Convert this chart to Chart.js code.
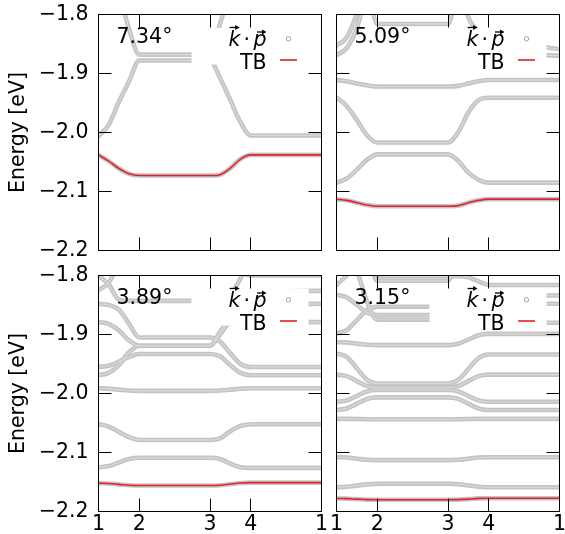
<!DOCTYPE html>
<html>
<head>
<meta charset="utf-8">
<script src="https://cdn.jsdelivr.net/npm/chart.js@4.4.1/dist/chart.umd.min.js"></script>
<style>
  html, body { margin: 0; padding: 0; background: #fff; }
  #wrap { position: relative; width: 565px; height: 534px; overflow: hidden; }
  #wrap canvas { position: absolute; left: 0; top: 0; }
</style>
</head>
<body>
<div id="wrap">
  <canvas id="p1" width="565" height="534"></canvas>
  <canvas id="p2" width="565" height="534"></canvas>
  <canvas id="p3" width="565" height="534"></canvas>
  <canvas id="p4" width="565" height="534"></canvas>
</div>
<script>
// path coordinate of every sample (1 -> 2 -> 3 -> 4 -> 1)
const K = [0, 0.25, 0.5, 0.75, 1, 2.732, 2.98, 3.23, 3.48, 3.732, 5.464];

const xTicks = [0, 1, 2.732, 3.732, 5.464];
const xTickLabels = ["1", "2", "3", "4", "1"];
const yTicks = [-2.2, -2.1, -2.0, -1.9, -1.8];
const yTickLabels = ["\u22122.2", "\u22122.1", "\u22122.0", "\u22121.9", "\u22121.8"];
const angles = ["7.34\u00b0", "5.09\u00b0", "3.89\u00b0", "3.15\u00b0"];

// 7.34 deg
const tb734 = [-2.038, -2.0485, -2.061, -2.070, -2.073, -2.073, -2.0715, -2.0605, -2.045, -2.038, -2.038];
const bands734 = [
    [-2.038, -2.0485, -2.061, -2.070, -2.073, -2.073, -2.0715, -2.0605, -2.045, -2.038, -2.038],
    [-2.006, -1.987, -1.948, -1.913, -1.878, -1.878, -1.908, -1.945, -1.983, -2.005, -2.005],
    [null, null, -1.76, -1.825, -1.868, -1.868, -1.815, -1.76, null, null, null]
];

// 5.09 deg
const tb509 = [-2.113, -2.115, -2.119, -2.123, -2.125, -2.125, -2.124, -2.119, -2.115, -2.113, -2.113];
const bands509 = [
    [-2.113, -2.115, -2.119, -2.123, -2.125, -2.125, -2.124, -2.119, -2.115, -2.113, -2.113],
    [-2.085, -2.078, -2.063, -2.046, -2.037, -2.037, -2.048, -2.068, -2.080, -2.085, -2.085],
    [-1.941, -1.955, -1.979, -2.005, -2.017, -2.017, -2.000, -1.966, -1.945, -1.941, -1.941],
    [-1.911, -1.913, -1.917, -1.920, -1.922, -1.922, -1.921, -1.917, -1.913, -1.911, -1.911],
    [-1.869, -1.857, -1.823, -1.76, null, null, -1.74, -1.805, -1.830, -1.855, -1.870],
    [-1.853, -1.839, -1.798, -1.74, null, null, null, null, null, -1.842, -1.859],
    [null, null, null, -1.74, -1.816, -1.816, -1.74, null, null, null, null]
];

// 3.89 deg
const tb389 = [-2.152, -2.1525, -2.154, -2.1555, -2.156, -2.156, -2.1556, -2.1535, -2.1516, -2.151, -2.151];
const bands389 = [
    [-2.152, -2.1525, -2.154, -2.1555, -2.156, -2.156, -2.1556, -2.1535, -2.1516, -2.151, -2.151],
    [-2.125, -2.123, -2.117, -2.111, -2.109, -2.109, -2.111, -2.119, -2.125, -2.126, -2.126],
    [-2.052, -2.056, -2.065, -2.074, -2.0787, -2.0787, -2.076, -2.064, -2.055, -2.052, -2.052],
    [-1.991, -1.992, -1.9935, -1.995, -1.9955, -1.9955, -1.995, -1.9935, -1.992, -1.991, -1.991],
    [-1.800, -1.815, -1.841, -1.843, -1.843, -1.843, -1.840, -1.835, -1.830, -1.828, -1.826],
    [-1.825, -1.812, -1.78, null, null, null, null, null, null, null, null],
    [-1.848, -1.850, -1.858, -1.882, -1.905, -1.905, -1.912, -1.932, -1.950, -1.955, -1.955],
    [-1.879, -1.882, -1.893, -1.910, -1.919, -1.919, -1.895, -1.873, -1.855, -1.849, -1.848],
    [-1.955, -1.953, -1.946, -1.938, -1.933, -1.933, -1.937, -1.952, -1.965, -1.969, -1.969],
    [-1.969, -1.965, -1.952, -1.930, -1.919, -1.919, -1.900, -1.880, -1.879, -1.879, -1.879],
    [null, null, null, null, null, null, null, -1.78, -1.795, -1.800, -1.800],
    [null, null, null, null, null, null, null, -1.835, -1.805, -1.77, null]
];

// 3.15 deg
const tb315 = [-2.178, -2.1782, -2.179, -2.1798, -2.180, -2.180, -2.1798, -2.179, -2.1777, -2.1775, -2.1775];
const bands315 = [
    [-2.178, -2.1782, -2.179, -2.1798, -2.180, -2.180, -2.1798, -2.179, -2.1777, -2.1775, -2.1775],
    [-2.159, -2.158, -2.156, -2.154, -2.153, -2.153, -2.1537, -2.156, -2.158, -2.159, -2.159],
    [-2.108, -2.1086, -2.1105, -2.1124, -2.113, -2.113, -2.1124, -2.1105, -2.1086, -2.108, -2.108],
    [-2.043, -2.043, -2.0433, -2.0436, -2.0437, -2.0437, -2.0436, -2.0433, -2.043, -2.043, -2.043],
    [-2.028, -2.0254, -2.0173, -2.0092, -2.0066, -2.0066, -2.0092, -2.0173, -2.0254, -2.028, -2.028],
    [-2.014, -2.0116, -2.004, -1.9964, -1.994, -1.994, -1.9964, -2.004, -2.0116, -2.014, -2.014],
    [-1.968, -1.9706, -1.979, -1.9874, -1.990, -1.990, -1.9874, -1.979, -1.9706, -1.968, -1.968],
    [-1.932, -1.938, -1.9575, -1.977, -1.983, -1.983, -1.977, -1.9585, -1.940, -1.934, -1.934],
    [-1.913, -1.9136, -1.9155, -1.9174, -1.918, -1.918, -1.9157, -1.9085, -1.9013, -1.899, -1.899],
    [null, null, -1.79, -1.845, -1.875, -1.875, -1.876, -1.878, -1.879, -1.880, -1.880],
    [-1.898, -1.8926, -1.8755, -1.8584, -1.853, -1.853, -1.8524, -1.8505, -1.8486, -1.848, -1.848],
    [-1.833, -1.837, -1.850, -1.863, -1.867, -1.867, -1.863, -1.8505, -1.838, -1.834, -1.834],
    [-1.816, -1.80, -1.78, -1.79, -1.801, -1.801, -1.801, -1.803, -1.81, -1.816, -1.816],
    [null, null, null, -1.76, -1.809, -1.809, -1.76, null, null, null, null]
];

const W = 565, H = 534, XH = 24;
const FONT = { family: "DejaVu Sans", size: 20.5 };
const FONT_CSS = '20.5px "DejaVu Sans"';
const FONT_IT = 'italic 20.5px "DejaVu Sans"';

function toPoints(arr) {
    return arr.map((y, i) => ({ x: K[i], y: y }));
}

function px(v) {
    return Math.round(v - 0.5) + 0.5;
}

function arrowOver(ctx, x1, x2, y) {
    ctx.beginPath();
    ctx.moveTo(x1, y);
    ctx.lineTo(x2 - 2, y);
    ctx.stroke();
    ctx.beginPath();
    ctx.moveTo(x2 + 1, y);
    ctx.lineTo(x2 - 3.5, y - 2.6);
    ctx.lineTo(x2 - 3.5, y + 2.6);
    ctx.closePath();
    ctx.fill();
}

// frame, inward ticks, opaque key, angle label
const panelPlugin = {
    id: "panel",
    afterDatasetsDraw(chart, args, opts) {
        const ctx = chart.ctx;
        const a = chart.chartArea;
        const xs = chart.scales.x, ys = chart.scales.y;
        ctx.save();

        // key box is opaque
        ctx.fillStyle = "#fff";
        ctx.fillRect(a.left + 93, a.top + 13.5, 117, 36.5);

        ctx.strokeStyle = "#000";
        ctx.lineWidth = 1;
        ctx.strokeRect(a.left, a.top, a.right - a.left, a.bottom - a.top);

        ctx.beginPath();
        ys.ticks.forEach(t => {
            const y = px(ys.getPixelForValue(t.value));
            ctx.moveTo(a.left, y); ctx.lineTo(a.left + 13, y);
            ctx.moveTo(a.right, y); ctx.lineTo(a.right - 13, y);
        });
        xs.ticks.forEach(t => {
            const x = px(xs.getPixelForValue(t.value));
            ctx.moveTo(x, a.bottom); ctx.lineTo(x, a.bottom - 13);
            ctx.moveTo(x, a.top); ctx.lineTo(x, a.top + 13);
        });
        ctx.stroke();

        ctx.fillStyle = "#000";
        ctx.font = FONT_CSS;
        ctx.textBaseline = "alphabetic";
        ctx.textAlign = "left";
        ctx.fillText(opts.angle, a.left + 18, a.top + 28);

        // legend: k.p with open circle, TB with red line
        const lx = a.left + 168;
        const y1 = a.top + 31, y2 = a.top + 54.5;
        ctx.font = FONT_IT;
        const wp = ctx.measureText("p").width;
        const wk = ctx.measureText("k").width;
        ctx.font = FONT_CSS;
        const wd = ctx.measureText("\u00b7").width;
        const pX = lx - wp;
        const dX = pX - 3.5 - wd;
        const kX = dX - 3 - wk;
        ctx.font = FONT_IT;
        ctx.fillText("k", kX, y1);
        ctx.fillText("p", pX, y1);
        ctx.font = FONT_CSS;
        ctx.fillText("\u00b7", dX, y1);
        ctx.lineWidth = 1.3;
        arrowOver(ctx, kX + 1, kX + 10, y1 - 18);
        arrowOver(ctx, pX + 3.5, pX + 12, y1 - 13.5);

        ctx.textAlign = "right";
        ctx.fillText("TB", lx, y2);

        ctx.beginPath();
        ctx.arc(a.left + 190, a.top + 24.3, 2.2, 0, Math.PI * 2);
        ctx.strokeStyle = "#a0a0a0";
        ctx.lineWidth = 1;
        ctx.stroke();

        ctx.beginPath();
        ctx.moveTo(a.left + 181.5, a.top + 45.5);
        ctx.lineTo(a.left + 198.5, a.top + 45.5);
        ctx.strokeStyle = "#e4202a";
        ctx.lineWidth = 1.6;
        ctx.stroke();

        ctx.restore();
    }
};

const panels = [
    { canvas: "p1", angle: angles[0], bands: bands734, tb: tb734, area: [98.5, 14.5, 321.5, 250.5], left: true, bottom: false },
    { canvas: "p2", angle: angles[1], bands: bands509, tb: tb509, area: [336.5, 14.5, 559.5, 250.5], left: false, bottom: false },
    { canvas: "p3", angle: angles[2], bands: bands389, tb: tb389, area: [98.5, 275.5, 321.5, 511.5], left: true, bottom: true },
    { canvas: "p4", angle: angles[3], bands: bands315, tb: tb315, area: [336.5, 275.5, 559.5, 511.5], left: false, bottom: true }
];

panels.forEach(p => {
    const [L, T, R, B] = p.area;
    // higher order is drawn first (underneath)
    const datasets = [{ data: toPoints(p.tb), borderColor: "#e4202a", borderWidth: 1.6, order: 0 }];
    p.bands.forEach(b => datasets.push({ data: toPoints(b), borderColor: "#d8d8d8", borderWidth: 1.2, order: 1 }));
    p.bands.forEach(b => datasets.push({ data: toPoints(b), borderColor: "#c4c4c4", borderWidth: 4.6, order: 2 }));

    new Chart(document.getElementById(p.canvas), {
        type: "line",
        data: { datasets: datasets },
        options: {
            responsive: false,
            animation: false,
            devicePixelRatio: 1,
            events: [],
            layout: {
                autoPadding: false,
                padding: { left: p.left ? 0 : L, top: T, right: W - R, bottom: H - B - XH }
            },
            elements: {
                point: { radius: 0 },
                line: { fill: false, cubicInterpolationMode: "monotone", capBezierPoints: false, borderCapStyle: "round" }
            },
            plugins: {
                legend: { display: false },
                tooltip: { enabled: false },
                panel: { angle: p.angle }
            },
            scales: {
                x: {
                    type: "linear",
                    min: 0,
                    max: 5.464,
                    afterBuildTicks: s => { s.ticks = xTicks.map(v => ({ value: v })); },
                    afterFit: s => { s.height = XH; s.paddingLeft = 0; s.paddingRight = 0; },
                    grid: { display: false, drawTicks: false },
                    border: { display: false },
                    ticks: {
                        display: p.bottom,
                        autoSkip: false,
                        maxRotation: 0,
                        padding: 1,
                        font: FONT,
                        color: "#000",
                        callback: (v, i) => xTickLabels[i]
                    }
                },
                y: {
                    type: "linear",
                    min: -2.2,
                    max: -1.8,
                    afterBuildTicks: s => { s.ticks = yTicks.map(v => ({ value: v })); },
                    afterFit: s => { s.width = p.left ? L : 0; s.paddingTop = 0; s.paddingBottom = 0; },
                    grid: { display: false, drawTicks: false },
                    border: { display: false },
                    ticks: {
                        display: p.left,
                        padding: 10,
                        font: FONT,
                        color: "#000",
                        callback: (v, i) => yTickLabels[i]
                    },
                    title: {
                        display: p.left,
                        text: "Energy [eV]",
                        font: FONT,
                        color: "#000",
                        padding: { top: 6, bottom: 0 }
                    }
                }
            }
        },
        plugins: [panelPlugin]
    });
});
</script>
</body>
</html>
